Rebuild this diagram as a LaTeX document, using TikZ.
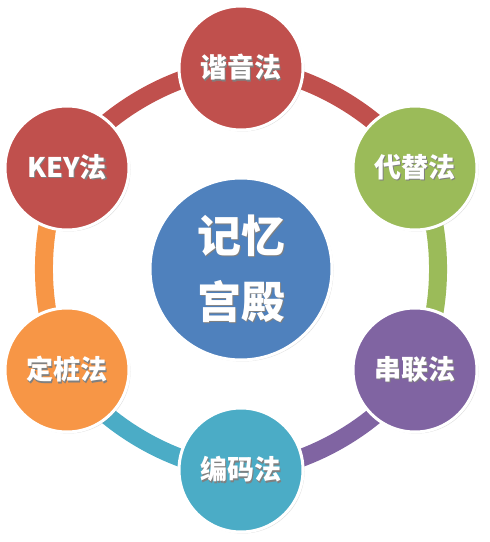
\documentclass[tikz,border=0pt]{standalone}
\usepackage{fontspec}
\setmainfont{Noto Sans CJK SC}
\usepackage{tikz}
\usetikzlibrary{shadows}
\usetikzlibrary{backgrounds}
\definecolor{ppred}{HTML}{C0504D}
\definecolor{ppgreen}{HTML}{9BBB59}
\definecolor{pppurple}{HTML}{8064A2}
\definecolor{ppteal}{HTML}{4BACC6}
\definecolor{pporange}{HTML}{F79646}
\definecolor{ppblue}{HTML}{4F81BD}
\newcommand{\shadowed}[1]{\makebox[0pt][l]{\kern1.3pt\raisebox{-1.3pt}{\textcolor{black!50}{#1}}}#1}

\begin{document}
\begin{tikzpicture}[x=1pt,y=1pt,
	method/.style={circle,draw=white,line width=3pt,minimum size=124pt,inner sep=0pt,
		text=white,font=\fontsize{27}{30}\selectfont\bfseries,
		drop shadow={shadow xshift=1.5pt,shadow yshift=-1.5pt,opacity=0.25}},
	band/.style={line width=18pt,bend left=30,looseness=0.78}]
	\useasboundingbox (0,0) rectangle (490,542);
	\node[circle,draw=white,line width=3pt,minimum size=182pt,fill=ppblue,text=white,align=center,
		font=\fontsize{44}{66}\selectfont\bfseries,
		drop shadow={shadow xshift=1.5pt,shadow yshift=-1.5pt,opacity=0.25}] (palace) at (241,273) {\shadowed{记忆}\\\shadowed{宫殿}};
	\node[method,fill=ppred] (xieyin) at (241,474) {\shadowed{谐音法}};
	\node[method,fill=ppgreen] (daiti) at (415,374) {\shadowed{代替法}};
	\node[method,fill=pppurple] (chuanlian) at (415,172) {\shadowed{串联法}};
	\node[method,fill=ppteal] (bianma) at (241,72) {\shadowed{编码法}};
	\node[method,fill=pporange] (dingzhuang) at (67,172) {\shadowed{定桩法}};
	\node[method,fill=ppred] (key) at (67,374) {\shadowed{KEY法}};
	\begin{pgfonlayer}{background}
		\draw[band,ppred] (xieyin.center) to (daiti.center);
		\draw[band,ppgreen] (daiti.center) to (chuanlian.center);
		\draw[band,pppurple] (chuanlian.center) to (bianma.center);
		\draw[band,ppteal] (bianma.center) to (dingzhuang.center);
		\draw[band,pporange] (dingzhuang.center) to (key.center);
		\draw[band,ppred] (key.center) to (xieyin.center);
	\end{pgfonlayer}
\end{tikzpicture}
\end{document}
